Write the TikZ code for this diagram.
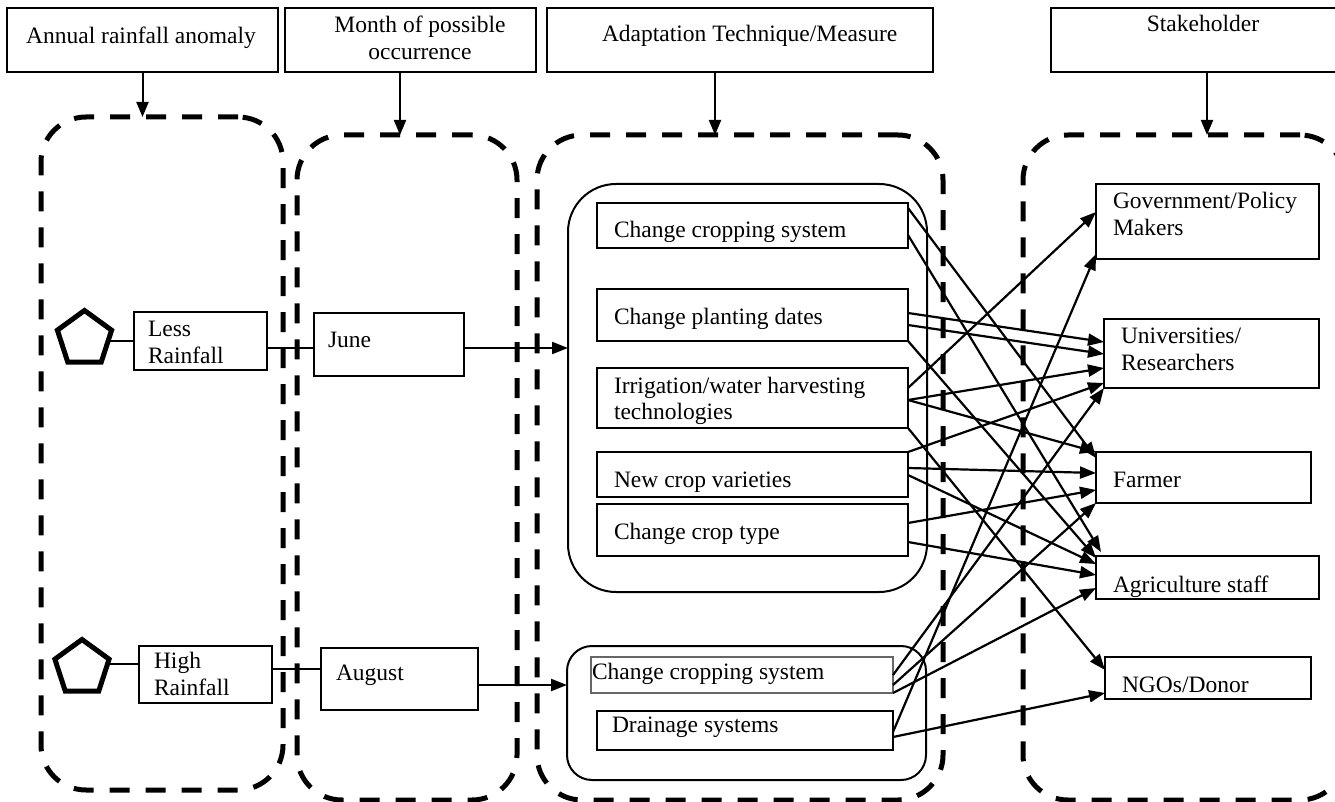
\documentclass[tikz,border=0pt]{standalone}
\usepackage{fontspec}
\setmainfont{Liberation Serif}
\usetikzlibrary{arrows.meta,shapes.geometric}
\newcommand{\twoL}[2]{\begin{tabular}[t]{@{}l@{}}#1\\#2\end{tabular}}
\newcommand{\twoC}[2]{\begin{tabular}[t]{@{}c@{}}#1\\#2\end{tabular}}

\begin{document}
\begin{tikzpicture}[x=1pt,y=-1pt,
  every node/.style={inner sep=0pt, outer sep=0pt},
  txt/.style={font=\fontsize{23.5pt}{27pt}\selectfont, anchor=base west},
  hbox/.style={draw, line width=1.8pt},
  sbox/.style={draw, line width=1.8pt},
  thinbox/.style={draw, line width=1.3pt},
  dbox/.style={draw, line width=5pt, dash pattern=on 20pt off 16pt, rounded corners=45pt},
  ibox/.style={draw, line width=2pt},
  link/.style={line width=2.2pt, -{Triangle[length=16pt,width=12pt]}},
  harr/.style={line width=2pt, -{Triangle[length=15pt,width=12pt]}},
  plain/.style={line width=2pt},
  penta/.style={draw, regular polygon, regular polygon sides=5, minimum size=57pt, line width=5pt},
]
\useasboundingbox (0,0) rectangle (1335,802);
\clip (0,0) rectangle (1335,802);

% column frames
\node[dbox, minimum width=242pt, minimum height=673pt] (d1) at (162,453.5) {};
\node[dbox, minimum width=220pt, minimum height=665pt] (d2) at (407,467.5) {};
\node[dbox, minimum width=406pt, minimum height=665pt] (d3) at (740,467.5) {};
\node[dbox, minimum width=322pt, minimum height=665pt] (d4) at (1184,467.5) {};

% column headings
\node[hbox, minimum width=271pt, minimum height=64pt] (h1) at (142.5,40) {};
\node[hbox, minimum width=251pt, minimum height=64pt] (h2) at (410.5,40) {};
\node[hbox, minimum width=386pt, minimum height=64pt] (h3) at (740,40) {};
\node[hbox, minimum width=314pt, minimum height=64pt] (h4) at (1208,40) {};
\node[txt, anchor=base] (h1t) at (141,44) {Annual rainfall anomaly};
\node[txt, anchor=base] (h2t) at (420,33) {\twoC{Month of possible}{occurrence}};
\node[txt] (h3t) at (602,42) {Adaptation Technique/Measure};
\node[txt, anchor=base] (h4t) at (1203,32) {Stakeholder};

\draw[harr] (h1.south) -- (h1.south |- d1.north);
\draw[harr] ([xshift=-10.5pt]h2.south) -- ([xshift=-10.5pt]h2.south |- d2.north);
\draw[harr] ([xshift=-25pt]h3.south) -- ([xshift=-25pt]h3.south |- d3.north);
\draw[harr] ([xshift=-1pt]h4.south) -- ([xshift=-1pt]h4.south |- d4.north);

% rainfall anomalies and months
\node[penta] (p1) at (84.5,339) {};
\node[penta] (p2) at (82,668) {};
\node[thinbox, minimum width=133pt, minimum height=58pt] (less) at (200.5,341) {};
\node[thinbox, minimum width=133pt, minimum height=57pt] (high) at (205.5,674.5) {};
\node[thinbox, minimum width=150pt, minimum height=63pt] (june) at (389,344.5) {};
\node[thinbox, minimum width=157pt, minimum height=62pt] (aug) at (399.5,679) {};
\node[txt] (lesst) at (148,336) {\twoL{Less}{Rainfall}};
\node[txt] (hight) at (154,668) {\twoL{High}{Rainfall}};
\node[txt] (junet) at (328,347) {June};
\node[txt] (augt) at (336,680) {August};

\draw[plain] ([yshift=-2pt]p1.east) -- ([yshift=-2pt]p1.east -| less.west);
\draw[plain] ([yshift=4pt]p2.east) -- ([yshift=4pt]p2.east -| high.west);
\draw[plain] ([yshift=-7pt]less.east) -- ([yshift=-7pt]less.east -| june.west);
\draw[plain] ([yshift=5.5pt]high.east) -- ([yshift=5.5pt]high.east -| aug.west);

% adaptation groups
\node[ibox, rounded corners=48pt, minimum width=359pt, minimum height=408pt] (i1) at (747.5,388) {};
\node[ibox, rounded corners=25pt, minimum width=359pt, minimum height=134pt] (i2) at (746.5,713) {};
\draw[link] ([yshift=-3.5pt]june.east) -- ([yshift=-3.5pt]june.east -| i1.west);
\draw[link] ([yshift=-6pt]aug.east) -- ([yshift=-6pt]aug.east -| i2.west);

\node[sbox, minimum width=311pt, minimum height=45pt] (ccs1) at (752.5,225.5) {};
\node[sbox, minimum width=311pt, minimum height=52pt] (cpd) at (752.5,315) {};
\node[sbox, minimum width=311pt, minimum height=60pt] (irr) at (752.5,398) {};
\node[sbox, minimum width=311pt, minimum height=45pt] (ncv) at (752.5,474.5) {};
\node[sbox, minimum width=311pt, minimum height=52pt] (cct) at (752.5,530) {};
\node[draw=black!60, line width=1.2pt, minimum width=302pt, minimum height=36pt] (ccs2) at (742,675) {};
\node[thinbox, minimum width=296pt, minimum height=39pt] (drn) at (745,730.5) {};
\node[txt] (ccs1t) at (614,238) {Change cropping system};
\node[txt] (cpdt) at (614,324) {Change planting dates};
\node[txt, font=\fontsize{23.5pt}{26pt}\selectfont] (irrt) at (614,393) {\twoL{Irrigation/water harvesting}{technologies}};
\node[txt] (ncvt) at (614,487) {New crop varieties};
\node[txt] (cctt) at (614,539) {Change crop type};
\node[txt] (ccs2t) at (592,679) {Change cropping system};
\node[txt] (drnt) at (612,732) {Drainage systems};

% stakeholders
\node[sbox, minimum width=223pt, minimum height=75pt] (gov) at (1207.5,221.5) {};
\node[sbox, minimum width=215pt, minimum height=69pt] (uni) at (1211.5,353.5) {};
\node[sbox, minimum width=215pt, minimum height=51pt] (far) at (1203.5,477.5) {};
\node[sbox, minimum width=223pt, minimum height=43pt] (agr) at (1207.5,577.5) {};
\node[sbox, minimum width=206pt, minimum height=42pt] (ngo) at (1208,678) {};
\node[txt] (govt) at (1113,209) {\twoL{Government/Policy}{Makers}};
\node[txt] (unit) at (1121,343) {\twoL{Universities/}{Researchers}};
\node[txt] (fart) at (1113,487) {Farmer};
\node[txt] (agrt) at (1113,592) {Agriculture staff};
\node[txt] (ngot) at (1122,692) {NGOs/Donor};

% measure-to-stakeholder links
\draw[link] ([yshift=-5pt]ccs1.north east) -- ([yshift=-6pt]far.north west);
\draw[link] ([yshift=-32pt]ccs1.north east) -- ([xshift=5pt,yshift=4pt]agr.north west);
\draw[link] ([yshift=-24pt]cpd.north east) -- ([yshift=-23pt]uni.north west);
\draw[link] ([yshift=-36pt]cpd.north east) -- ([yshift=-35pt]uni.north west);
\draw[link] (cpd.south east) -- ([yshift=-2pt]agr.north west);
\draw[link] ([yshift=-20pt]irr.north east) -- ([yshift=-28pt]gov.north west);
\draw[link] ([yshift=-32pt]irr.north east) -- ([yshift=-49pt]uni.north west);
\draw[link] ([yshift=-32pt]irr.north east) -- (far.north west);
\draw[link] (irr.south east) -- ([yshift=-13pt]ngo.north west);
\draw[link] (ncv.north east) -- ([yshift=-64pt]uni.north west);
\draw[link] ([yshift=-16pt]ncv.north east) -- ([yshift=-21pt]far.north west);
\draw[link] ([yshift=-23pt]ncv.north east) -- ([yshift=-8pt]agr.north west);
\draw[link] ([yshift=-19pt]cct.north east) -- ([yshift=-38pt]far.north west);
\draw[link] ([yshift=-38pt]cct.north east) -- ([yshift=-19pt]agr.north west);
\draw[link] ([yshift=-18pt]ccs2.north east) -- (uni.south west);
\draw[link] ([yshift=-28pt]ccs2.north east) -- (far.south west);
\draw[link] (ccs2.south east) -- ([yshift=-32pt]agr.north west);
\draw[link] ([yshift=-21pt]drn.north east) -- ([yshift=5pt]gov.south west);
\draw[link] ([yshift=-26pt]drn.north east) -- ([yshift=-36pt]ngo.north west);
\end{tikzpicture}
\end{document}
